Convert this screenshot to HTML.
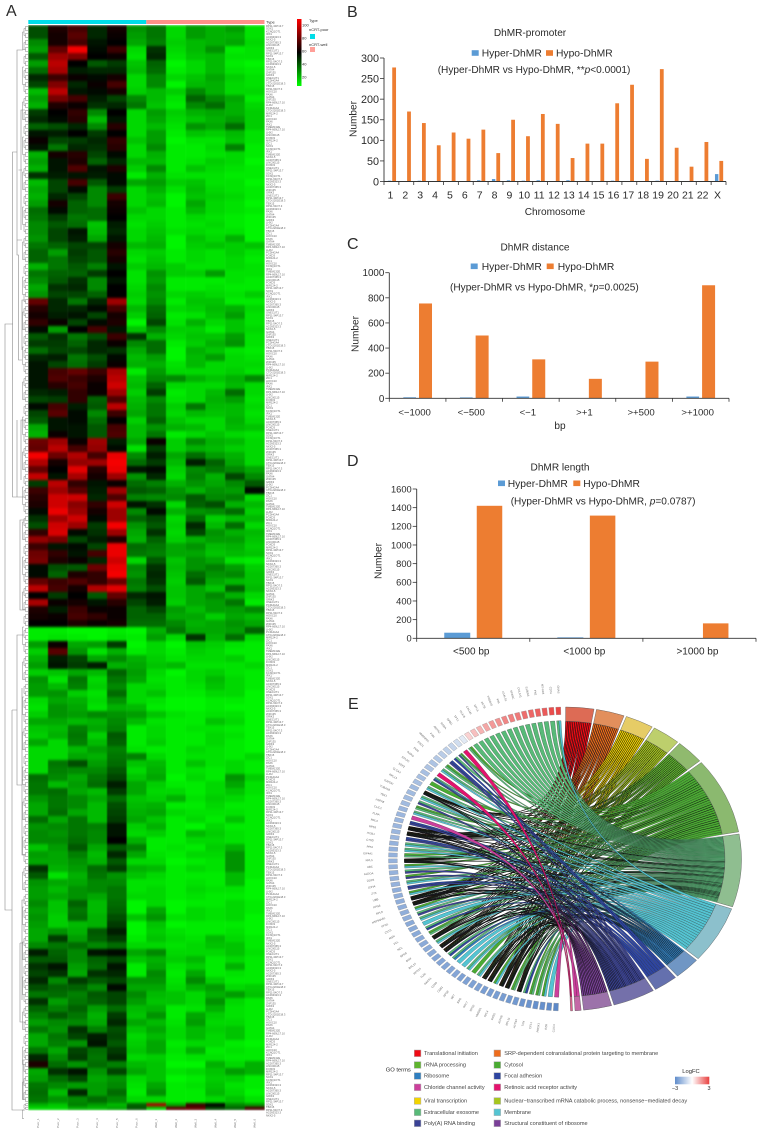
<!DOCTYPE html>
<html lang="en">
<head>
<meta charset="utf-8">
<title>DhMR heatmap, bar charts and GO chord diagram</title>
<style>
html,body{margin:0;padding:0;background:#fff;}
svg{display:block;font-family:"Liberation Sans",Arial,sans-serif;}
text{fill:#2a2a2a;}
</style>
</head>
<body>
<svg id="fig" xmlns="http://www.w3.org/2000/svg" width="761" height="1134" viewBox="0 0 761 1134">
<defs>
<linearGradient id="heatScale" x1="0" y1="1" x2="0" y2="0"><stop offset="0" stop-color="#00ff00"/><stop offset="0.5" stop-color="#000"/><stop offset="1" stop-color="#ff0000"/></linearGradient>
<linearGradient id="fcScale" x1="0" y1="0" x2="1" y2="0"><stop offset="0" stop-color="#5f8ccb"/><stop offset="0.5" stop-color="#fff"/><stop offset="1" stop-color="#e8403f"/></linearGradient>
<filter id="heatSoft" x="0" y="0" width="1" height="1" color-interpolation-filters="sRGB"><feGaussianBlur stdDeviation="0.4 1.2"/></filter>
</defs>
<text x="6" y="16" font-size="16">A</text>
<text x="347" y="17" font-size="16">B</text>
<text x="347" y="249" font-size="16">C</text>
<text x="347" y="466" font-size="16">D</text>
<text x="348" y="709" font-size="16">E</text>

<g id="heatPanel">
<rect x="28.3" y="20" width="118" height="4" fill="#00dde8"/>
<rect x="146.3" y="20" width="118.2" height="4" fill="#ff9088"/>
<text x="266" y="23.5" font-size="4">Type</text>
<path fill="none" stroke="#8a8a8a" stroke-width="0.6" d="M13 324H5V910H12M17 152H12.5V497H17M23 50H17V255H18.5V360H22M22 170H18.5M24 497H17V420M12 710V1110H25M12 710H17M24 635H17V785H22M22 688V855H25M22 780H25M20 943V1022H25M20 943H23M22 240H17M25 110H21V230M25 300H22V350M25 420H21V480M25 520H20V610H25M25 900H22V1000M25 1060H23V1100"/>
<g id="dendroLeaves"></g>
<g id="heatCells" filter="url(#heatSoft)"></g>
<g id="rowLabels"></g>
<g id="colLabels"></g>
<rect x="297" y="19" width="4.5" height="67" fill="url(#heatScale)"/>
<g font-size="4" fill="#555">
<text x="302" y="26.5">100</text>
<text x="302" y="39.5">80</text>
<text x="302" y="52.5">60</text>
<text x="302" y="65.5">40</text>
<text x="302" y="78.5">20</text>
<text x="309" y="22">Type</text>
<text x="309" y="31">nCRT-poor</text>
<text x="309" y="46">nCRT-well</text>
</g>
<rect x="310" y="34" width="5" height="5" fill="#00dde8"/>
<rect x="310" y="47" width="5" height="5" fill="#ff9f98"/>
</g>

<g id="chartB">
<text x="530" y="36" font-size="10.1" text-anchor="middle">DhMR-promoter</text>
<text x="437.7" y="73" font-size="10.1">(Hyper-DhMR vs Hypo-DhMR, **<tspan font-style="italic">p</tspan>&lt;0.0001)</text>
<text x="555" y="215" font-size="10.1" text-anchor="middle">Chromosome</text>
<text transform="translate(356.5,119) rotate(-90)" font-size="10.1" text-anchor="middle">Number</text>
</g>
<g id="chartC">
<text x="535" y="250.5" font-size="10.1" text-anchor="middle">DhMR distance</text>
<text x="450" y="290.5" font-size="10.1">(Hyper-DhMR vs Hypo-DhMR, *<tspan font-style="italic">p</tspan>=0.0025)</text>
<text x="560" y="429" font-size="10.1" text-anchor="middle">bp</text>
<text transform="translate(358.5,334) rotate(-90)" font-size="10.1" text-anchor="middle">Number</text>
</g>
<g id="chartD">
<text x="560" y="470.5" font-size="10.1" text-anchor="middle">DhMR length</text>
<text x="510.7" y="504.3" font-size="10.1">(Hyper-DhMR vs Hypo-DhMR, <tspan font-style="italic">p</tspan>=0.0787)</text>
<text transform="translate(381.5,561) rotate(-90)" font-size="10.1" text-anchor="middle">Number</text>
</g>

<g id="chord" style="filter:blur(.25px)"></g>
<g id="geneLabels"></g>

<g id="goLegend">
<text x="385.7" y="1071.3" font-size="5.8" fill="#444">GO terms</text>
</g>
<g>
<text x="691" y="1073" font-size="5.8" text-anchor="middle" fill="#444">LogFC</text>
<rect x="675" y="1076.7" width="34.3" height="7.6" fill="url(#fcScale)"/>
<text x="675" y="1090" font-size="5.5" text-anchor="middle" fill="#444">−3</text>
<text x="709" y="1090" font-size="5.5" text-anchor="middle" fill="#444">3</text>
</g>
</svg>

<script>
// ---------- Heatmap values (one row per band, read top to bottom; 12 samples) ----------
const heatRows = [
[42,64,72,50,62,28,34,14,26,22,26,12],[42,62,76,50,60,26,34,14,26,22,22,12],[30,62,72,54,58,24,32,16,20,22,24,14],
[26,78,108,56,70,14,48,14,20,28,10,12],[40,90,84,58,60,12,50,12,18,20,12,12],[26,96,58,40,46,18,38,8,14,20,10,8],
[36,92,52,50,50,20,36,10,14,20,12,10],[50,70,60,56,62,14,30,14,18,24,16,12],[44,84,50,60,72,14,30,8,20,22,14,12],
[20,96,54,56,62,16,20,16,30,22,14,14],[26,82,72,52,44,30,20,12,38,30,24,10],[22,64,60,48,50,34,18,10,30,36,22,14],
[46,58,68,30,58,14,26,16,22,24,22,16],[50,56,66,20,54,14,24,14,18,22,26,16],[38,42,50,30,66,14,20,12,28,24,36,16],
[54,52,58,46,58,14,26,10,18,16,20,12],[60,44,46,50,68,18,26,8,12,12,18,12],[54,34,50,48,66,14,30,10,10,14,32,10],
[22,62,66,44,56,14,22,10,10,12,14,10],[26,54,64,38,50,20,20,10,12,16,14,8],[22,54,74,54,64,16,30,10,18,14,12,10],
[48,52,54,52,56,10,22,12,12,12,10,10],[20,44,72,40,56,24,26,16,18,12,12,8],[24,44,56,30,46,14,22,12,20,14,12,10],
[22,50,44,30,70,14,18,8,18,16,14,10],[26,62,38,30,62,14,20,8,24,14,12,8],[36,56,38,36,60,18,14,10,20,14,12,10],
[34,46,34,36,58,14,14,10,14,12,10,8],[30,40,36,18,52,12,16,10,12,14,10,8],[30,44,54,20,50,14,18,12,14,12,12,8],
[28,44,52,24,54,14,20,8,18,14,22,8],[34,38,44,44,62,20,22,8,16,18,16,18],[38,26,46,40,66,14,16,10,14,12,16,12],
[38,34,44,40,62,12,18,10,14,12,14,10],[22,34,40,32,54,16,20,16,12,12,14,12],[34,38,38,46,58,12,28,16,16,26,12,12],
[30,40,48,30,54,12,26,10,10,10,12,10],[24,48,50,30,58,14,30,10,10,12,10,10],[28,44,44,38,58,16,28,14,16,14,12,16],
[78,50,34,50,90,14,30,10,18,18,10,10],[66,50,50,56,72,20,36,14,16,20,22,14],[62,52,54,44,62,16,38,10,12,18,26,12],
[68,60,44,56,64,8,44,12,22,14,18,12],[56,26,58,72,54,18,30,16,16,10,18,14],[40,48,34,42,70,48,22,14,18,18,26,12],
[46,46,38,50,60,30,36,10,16,22,28,12],[36,44,44,50,48,24,36,8,22,18,12,10],[50,52,34,42,56,20,26,8,20,26,14,12],
[54,44,36,46,60,22,22,12,20,14,14,14],[54,72,78,70,92,10,26,14,14,14,16,12],[54,74,70,64,96,18,30,30,22,18,22,30],
[54,66,72,60,100,20,38,14,14,14,20,14],[50,52,68,60,90,16,46,10,14,20,36,14],[44,46,68,38,74,20,30,12,14,22,26,12],
[56,72,52,40,96,22,34,16,34,20,20,14],[44,76,56,30,70,24,34,14,20,18,20,12],[40,54,56,36,58,16,38,18,14,14,22,14],
[24,54,54,40,72,20,28,22,20,14,20,18],[22,60,54,40,74,20,34,10,14,18,14,12],[80,90,60,90,52,24,60,16,30,22,20,14],
[78,96,72,88,56,12,46,16,22,20,16,14],[108,80,94,72,106,30,52,24,36,26,22,14],[94,62,88,90,108,36,46,20,52,38,24,14],
[78,58,104,66,106,54,56,16,30,34,30,24],[98,54,92,62,90,28,50,14,32,22,44,30],[46,96,68,54,60,36,32,22,28,24,30,40],
[70,90,76,52,90,40,38,28,22,28,26,56],[66,100,100,50,74,32,30,30,40,30,32,14],[64,100,86,68,100,54,48,14,38,42,22,20],
[56,106,90,62,90,30,56,22,28,30,36,16],[48,90,100,56,90,38,44,14,36,16,20,20],[42,100,90,46,108,28,40,16,50,20,36,14],
[68,102,56,48,90,24,48,14,44,28,22,20],[88,82,44,52,64,22,38,16,22,26,26,18],[70,54,56,44,106,36,34,24,28,20,22,16],
[80,68,54,72,106,34,32,24,24,18,20,18],[82,64,60,50,100,14,40,18,28,24,12,10],[56,42,40,80,106,30,48,20,28,32,26,16],
[56,38,64,68,108,28,50,18,36,28,30,18],[78,70,74,68,80,34,48,16,40,24,20,18],[96,72,62,94,104,32,42,18,24,18,38,20],
[58,46,58,40,78,50,54,18,24,30,22,14],[92,60,62,54,66,44,52,16,24,26,34,10],[64,52,70,60,60,38,44,26,20,26,26,30],
[62,60,72,68,60,38,38,24,24,16,24,20],[58,58,64,60,62,36,36,30,22,24,28,24],[10,10,8,8,10,8,22,34,24,24,26,38],
[10,12,10,8,12,10,26,14,48,22,36,14],[26,60,24,26,46,8,14,8,18,16,12,10],[16,76,28,12,22,10,14,10,16,14,10,10],
[22,52,44,24,30,22,16,12,14,14,16,10],[26,54,46,52,22,24,18,20,12,12,12,14],[16,18,24,20,38,26,14,8,14,16,12,10],
[28,12,34,14,34,24,12,10,14,20,14,10],[26,20,32,16,30,14,14,10,12,18,14,10],[26,28,16,12,36,14,18,10,10,14,14,8],
[14,24,22,14,28,14,12,8,8,10,10,8],[12,28,24,12,22,20,10,8,8,10,8,8],[16,28,26,30,28,26,18,12,10,12,12,8],
[24,24,20,22,30,20,12,10,10,18,14,8],[18,20,32,24,32,10,14,10,12,12,10,8],[16,22,34,16,40,10,14,10,10,14,12,8],
[24,14,32,20,38,10,16,10,10,14,10,8],[14,14,20,26,32,12,10,10,14,12,10,8],[14,14,24,22,34,32,14,10,12,12,10,14],
[14,34,42,26,36,18,20,10,18,12,14,10],[14,32,30,30,40,14,22,10,12,10,14,10],[36,30,24,34,44,18,24,8,14,10,28,16],
[34,20,26,36,52,24,16,10,10,14,24,12],[34,36,24,20,46,24,14,14,10,14,18,12],[28,34,30,24,36,18,16,22,12,16,14,10],
[24,34,30,20,42,20,22,10,10,14,10,10],[24,36,24,20,44,22,24,14,12,12,12,10],[36,24,34,20,46,24,18,10,14,10,18,10],
[28,30,34,32,54,16,22,10,8,14,10,10],[30,28,34,30,54,14,16,10,20,16,12,10],[30,30,36,30,58,22,10,10,14,14,12,10],
[18,26,40,24,40,32,10,12,10,16,22,10],[26,24,32,20,50,24,12,10,14,14,28,10],[24,24,28,22,40,14,14,8,10,12,28,10],
[48,22,26,36,46,22,20,10,14,12,28,10],[40,12,22,34,28,18,14,10,10,10,20,10],[28,24,24,30,30,12,12,10,12,10,20,8],
[26,20,28,30,34,12,14,10,14,12,12,8],[26,24,28,24,34,14,14,10,12,10,10,8],[30,18,38,20,36,8,14,8,10,10,14,10],
[26,18,34,20,38,8,24,8,14,12,14,10],[28,16,36,22,42,18,28,12,14,12,14,8],[26,16,20,22,46,8,18,8,10,10,10,8],
[24,28,22,40,52,8,16,12,10,10,12,8],[24,46,26,38,46,10,18,14,12,20,14,10],[30,34,36,30,36,14,14,12,14,18,18,10],
[52,38,30,54,56,24,30,14,14,14,18,12],[40,40,30,38,44,18,22,16,20,10,14,10],[48,54,26,36,54,10,24,12,16,10,22,10],
[44,48,24,48,50,10,30,10,24,10,12,10],[50,30,46,40,44,28,28,12,30,16,10,10],[42,38,38,30,56,24,24,14,22,26,14,16],
[34,36,32,40,44,30,20,18,14,22,26,18],[48,26,34,38,44,26,18,18,14,28,14,10],[38,32,38,26,36,20,22,10,12,22,12,10],
[32,40,34,22,46,18,28,10,24,16,12,10],[26,30,30,24,50,24,20,12,26,14,14,10],[34,28,48,32,42,18,24,14,20,16,18,10],
[24,34,44,52,44,14,20,14,20,14,18,10],[24,32,28,54,40,16,24,10,14,14,10,8],[34,24,44,36,46,18,24,12,22,10,12,10],
[50,30,46,34,50,14,16,10,12,12,10,10],[64,36,28,36,32,20,18,8,8,22,14,22],[24,48,54,28,44,24,18,12,14,18,26,22],
[26,36,44,24,28,14,18,8,10,16,16,10],[34,30,26,26,30,12,24,10,12,18,12,10],[36,20,50,26,36,10,28,10,10,20,14,8],
[34,28,30,36,30,14,14,10,10,14,18,12],[22,18,32,26,20,38,92,24,70,58,30,26],[14,14,22,20,24,40,16,76,78,44,38,72]
];
// Row labels in the source are too small to read; these are representative stand-ins.
const rowLabelNames = ["RP11-34P13.7","PCDHGA4","LINC00115","ZNF135","TMEM132E","AC093323.3","HOXC10","SOX1","CTD-2201E18.3","FOXD3","GRIK3","RP4-669L17.10","NKX2-5","PAX6","KCNQ1OT1","TBX15","MIR124-2","ONECUT1","LHX2","AC007365.3","GATA4","IRX1","RP11-54O7.3","ZIC1"];
const sampleLabels = ["Poor_1","Poor_2","Poor_3","Poor_4","Poor_5","Poor_6","Well_1","Well_2","Well_3","Well_4","Well_5","Well_6"];

// ---------- Bar chart values ----------
const promoterCategories = ["1","2","3","4","5","6","7","8","9","10","11","12","13","14","15","16","17","18","19","20","21","22","X"];
const promoterHyper = [2,0,2,1,1,1,3,6,3,2,3,1,3,1,1,2,1,0,2,0,0,0,18];
const promoterHypo = [277,170,142,88,119,104,126,69,150,110,164,140,57,92,92,190,235,55,273,82,36,96,50];
const promoterTicks = [0,50,100,150,200,250,300];

const distanceCategories = ["<−1000","<−500","<−1",">+1",">+500",">+1000"];
const distanceHyper = [8,7,14,2,2,14];
const distanceHypo = [755,500,310,155,292,900];
const distanceTicks = [0,200,400,600,800,1000];

const lengthCategories = ["<500 bp","<1000 bp",">1000 bp"];
const lengthHyper = [60,10,1];
const lengthHypo = [1420,1315,160];
const lengthTicks = [0,200,400,600,800,1000,1200,1400,1600];

// ---------- Chord values ----------
const termNames = ["Translational initiation","SRP-dependent cotranslational protein targeting to membrane","Viral transcription","Nuclear−transcribed mRNA catabolic process, nonsense−mediated decay","rRNA processing","Cytosol","Extracellular exosome","Membrane","Ribosome","Focal adhesion","Poly(A) RNA binding","Structural constituent of ribosome","Chloride channel activity","Retinoic acid receptor activity"];
const termGeneCounts = [14,14,14,14,14,44,42,33,13,12,21,14,3,1];
const termColors = ["#f00a14","#ee6c1c","#f2d400","#a6c61e","#5fb52e","#4aab32","#58ba78","#54c4d2","#2f7fc0","#2e45a0","#3a4296","#7a3f98","#cc3f9c","#e4126e"];
const termRingColors = ["#dd6b55","#e28f5c","#e6cc66","#bdcf6c","#90ba6e","#8bb96f","#8fbe90","#8cc0cc","#7096c4","#6470ae","#7470aa","#9c72aa","#c468a6","#e0608e"];
const ribosomalLinks = [0,1,2,3,4,5,6,8,10,11];
const R = ribosomalLinks;
const geneTerms = [[7,6],[6],[6],[6],[6],[6],[6],[6],[6],[6],[6],[6],[6],[6],[6],[5,6],[13],[5,6,10],[6,9],[9,10],[5,6],[6,7],[13],[6,8,10],[5],[6,7],R,[6,7],[6,10],[5,6],[6,7],[12],[9,10],R,R,[9,10],[6,7],[6,7],[5,6],R,[5,7],[6,10],[5,10],[6,7],[9,10],[5,7],R,R,[5,7],[6,10],[6,7],[7],[6,9],[5,6],R,[6,7],R,R,[6,9],[6,8],[7],[7],[6,7],[5],[6,7],R,R,[5,7],R,R,[5,6],R,[6,9],[5,6],[5,6],[5,7],[7],[12]];
const geneLogFC = [2.9,2.8,2.6,2.5,2.4,2.3,2.1,2,1.9,1.7,1.6,1.4,1.2,1,0.7,-0.5,-0.8,-1,-1.1,-1.2,-1.3,-1.4,-1.4,-1.5,-1.5,-1.5,-1.6,-1.6,-1.6,-1.6,-1.7,-1.7,-1.7,-1.7,-1.7,-1.7,-1.8,-1.8,-1.8,-1.8,-1.8,-1.8,-1.8,-1.8,-1.9,-1.9,-1.9,-1.9,-1.9,-1.9,-2,-2,-2,-2,-2,-2,-2,-2.1,-2.1,-2.1,-2.1,-2.1,-2.2,-2.2,-2.2,-2.2,-2.3,-2.3,-2.3,-2.3,-2.4,-2.4,-2.5,-2.5,-2.6,-2.6,-2.7,-2.8];
// Gene labels in the source are too small to read; these are representative stand-ins.
const geneNames = ["GNAS","CD74","MT-ND4","FN1","S100A6","COL1A1","SPARC","LGALS1","VIM","TMSB10","ACTB","MYL6","CALM1","HLA-B","TPT1","NPM1","RARA","ANXA2","PXN","HNRNPA1","ENO1","PKM","RARG","RPLP0","EEF2","CLCA4","RPL13","GAPDH","TUBA1B","YBX1","HSPA8","CLIC1","FLNA","RPL3","RPS3","ITGB1","CTSD","PPIA","EIF4A1","RPL5","UBC","ALDOA","DDX5","LDHA","ZYX","UBB","RPS6","RPL8","HSP90AB1","PFN1","CST3","MSN","VCL","NCL","RPS8","B2M","RPL10","RPS14","TLN1","RACK1","CD59","CD81","APOE","SET","BSG","RPL7","RPS2","HMGB1","RPL4","RPS5","ATP5B","RPL11","ACTN4","TXN","CFL1","PRDX1","EZR","CLIC4"];
const legendRows = [
 {term:0,col:0,row:0},{term:1,col:1,row:0},{term:4,col:0,row:1},{term:5,col:1,row:1},
 {term:8,col:0,row:2},{term:9,col:1,row:2},{term:12,col:0,row:3},{term:13,col:1,row:3},
 {term:2,col:0,row:4},{term:3,col:1,row:4},{term:6,col:0,row:5},{term:7,col:1,row:5},
 {term:10,col:0,row:6},{term:11,col:1,row:6}];

const NS = "http://www.w3.org/2000/svg";
function mk(tag, attrs, parent){
  const el = document.createElementNS(NS, tag);
  for(const k in attrs) el.setAttribute(k, attrs[k]);
  parent.appendChild(el);
  return el;
}

// ---------- Heatmap ----------
const heatX0 = 28.3, heatColW = 19.68, heatY0 = 25, heatRowH = 7;
const heatX = c => heatX0 + c*heatColW;
const heatY = r => heatY0 + (r <= heatRows.length-2 ? r*heatRowH : (r-1)*heatRowH + heatRowH/2);
const heatH = r => r >= heatRows.length-2 ? heatRowH/2 : heatRowH;
function heatColor(v){
  const t = Math.max(-1, Math.min(1, (v-58)/52));
  const k = Math.round(Math.abs(t)*255);
  return t < 0 ? "rgb(0,"+k+",0)" : "rgb("+k+",0,0)";
}
const heatG = document.getElementById("heatCells");
heatRows.forEach((row, r) => row.forEach((v, c) => {
  const cell = mk("rect", {x:heatX(c), y:heatY(r), width:heatColW+0.2, height:heatH(r)+0.2, fill:heatColor(v)}, heatG);
  
  
}));

let leafD = "";
heatRows.forEach((row, r) => {
  const y = heatY(r), h = heatH(r);
  leafD += "M28 "+(y+h*.2)+"H25.5V"+(y+h*.8)+"H28";
  if(r%2===0) leafD += "M25.5 "+(y+h/2)+"H24V"+(y+h*1.5)+"H25.5";
  if(r%5===0) leafD += "M24 "+(y+h)+"H22.5V"+(y+h*3.5)+"H24";
});
const leaves = mk("path", {d:leafD, fill:"none", stroke:"#777", "stroke-width":0.45}, document.getElementById("dendroLeaves"));



const rowLabelG = document.getElementById("rowLabels");
for(let i=0;i<400;i++){
  const t = mk("text", {x:266, y:27+i*2.73, "font-size":2.7}, rowLabelG);
  t.style.fill = "#666";
  t.textContent = rowLabelNames[(i*7+(i>>2))%rowLabelNames.length];
  
  
}
const colLabelG = document.getElementById("colLabels");
sampleLabels.forEach((s,c)=>{
  const t = mk("text", {transform:"translate("+(heatX(c)+heatColW/2+1)+",1128) rotate(-90)", "font-size":3}, colLabelG);
  t.style.fill = "#777";
  t.textContent = s;
  
  
});

// ---------- Bar charts ----------
function drawBars(o){
  const g = document.getElementById(o.id);
  const x0 = o.x0, x1 = o.x1, yBase = o.yBase, yTop = o.yTop;
  const maxTick = o.ticks[o.ticks.length-1];
  const yScale = v => yBase - v*(yBase-yTop)/maxTick;
  const bandW = (x1-x0)/o.categories.length;
  const xBand = i => x0 + i*bandW;
  o.categories.forEach((cat,i)=>{
    const c = xBand(i) + bandW/2;
    const hyper = mk("rect", {x:c-o.hyperLeft, y:yScale(o.hyper[i]), width:o.hyperW, height:yBase-yScale(o.hyper[i]), fill:"#5b9bd5"}, g);
    
    
    const hypo = mk("rect", {x:c+o.hypoLeft, y:yScale(o.hypo[i]), width:o.hypoW, height:yBase-yScale(o.hypo[i]), fill:"#ed7d31"}, g);
    
    
    const lab = mk("text", {x:c+o.labelShift, y:yBase+o.labelDy, "font-size":o.xFont, "text-anchor":"middle"}, g);
    lab.textContent = cat;
    
    
  });
  for(let i=0;i<=o.categories.length;i++){
    const tick = mk("line", {x1:xBand(i), x2:xBand(i), y1:yBase, y2:yBase+3.5, stroke:"#333", "stroke-width":0.8}, g);
    
    
  }
  const xAxis = mk("line", {x1:x0, x2:x1, y1:yBase, y2:yBase, stroke:"#333", "stroke-width":0.9}, g);
  
  
  const yAxis = mk("line", {x1:x0, x2:x0, y1:yTop, y2:yBase, stroke:"#333", "stroke-width":0.9}, g);
  
  
  o.ticks.forEach(v=>{
    const tick = mk("line", {x1:x0-4, x2:x0, y1:yScale(v), y2:yScale(v), stroke:"#333", "stroke-width":0.8}, g);
    
    
    const lab = mk("text", {x:x0-5, y:yScale(v)+o.yFont*.36, "font-size":o.yFont, "text-anchor":"end"}, g);
    lab.textContent = v;
    
    
  });
  // legend
  const s1 = mk("rect", {x:o.leg[0], y:o.legY-2.8, width:7, height:5.6, fill:"#5b9bd5"}, g);
  
  
  const t1 = mk("text", {x:o.leg[1], y:o.legY+3.6, "font-size":10.3}, g);
  t1.textContent = "Hyper-DhMR";
  
  
  const s2 = mk("rect", {x:o.leg[2], y:o.legY-2.8, width:7, height:5.6, fill:"#ed7d31"}, g);
  
  
  const t2 = mk("text", {x:o.leg[3], y:o.legY+3.6, "font-size":10.3}, g);
  t2.textContent = "Hypo-DhMR";
  
  
}
drawBars({id:"chartB",categories:promoterCategories,hyper:promoterHyper,hypo:promoterHypo,ticks:promoterTicks,x0:384,x1:726,yBase:181.5,yTop:58,hyperLeft:3.6,hyperW:3.4,hypoLeft:0.8,hypoW:3.8,labelShift:-1,labelDy:17.2,xFont:10.5,yFont:10.8,leg:[471.7,481.7,546,556],legY:53});
drawBars({id:"chartC",categories:distanceCategories,hyper:distanceHyper,hypo:distanceHypo,ticks:distanceTicks,x0:389.3,x1:729,yBase:398.3,yTop:272.7,hyperLeft:14.3,hyperW:12.7,hypoLeft:1.4,hypoW:13,labelShift:-3,labelDy:17,xFont:9.6,yFont:9.8,leg:[470.7,481.7,546.7,557.7],legY:266.3});
drawBars({id:"chartD",categories:lengthCategories,hyper:lengthHyper,hypo:lengthHypo,ticks:lengthTicks,x0:416.7,x1:756,yBase:638.3,yTop:489,hyperLeft:29,hyperW:26,hypoLeft:3.5,hypoW:25.5,labelShift:-2,labelDy:16.2,xFont:10,yFont:9.3,leg:[498,507.7,573.3,583.3],legY:483.3});

// ---------- Chord diagram ----------
const chordG = document.getElementById("chord");
const cx = 565, cy = 859, rx = 176.5, ry = 152;
const polar = (deg, r) => {
  const a = deg*Math.PI/180;
  return [cx + rx*r*Math.sin(a), cy - ry*r*Math.cos(a)];
};
const termGap = 0.8, termStart0 = 0.2;
const degPerGene = (178 - termGap*(termGeneCounts.length-1)) / termGeneCounts.reduce((a,b)=>a+b,0);
const termRanges = [];
let cursor = termStart0;
termGeneCounts.forEach(n => { termRanges.push([cursor, cursor+n*degPerGene]); cursor += n*degPerGene + termGap; });
const geneAngle = i => 357.8 - i*2.27;
function arcBand(a0, a1, r0, r1){
  const p0 = polar(a0,r1), p1 = polar(a1,r1), p2 = polar(a1,r0), p3 = polar(a0,r0);
  return "M"+p0+"A"+(rx*r1)+" "+(ry*r1)+" 0 0 1 "+p1+"L"+p2+"A"+(rx*r0)+" "+(ry*r0)+" 0 0 0 "+p3+"Z";
}
// ribbons: links of multi-term genes carry heavier outlines, so those stubs read as black
const linksByTerm = termNames.map(()=>[]);
geneTerms.forEach((terms,g)=>terms.forEach((t,k)=>linksByTerm[t].push({g:g,k:k,n:terms.length})));
linksByTerm.forEach((links,t)=>{
  const [t0,t1] = termRanges[t];
  const w = (t1-t0)/links.length;
  links.forEach((l,idx)=>{
    const span = 1.56/l.n;
    const aHi = geneAngle(l.g) + 0.78 - l.k*span, aLo = aHi - span;
    const a = polar(aHi,.91), b = polar(aLo,.91);
    const c = polar(t0+idx*w,.906), d = polar(t0+(idx+1)*w,.906);
    const ctrl = cx+","+cy;
    const ribbon = mk("path", {d:"M"+a+"Q"+ctrl+" "+c+"L"+d+"Q"+ctrl+" "+b+"Z", fill:termColors[t], stroke:"#111", "stroke-width":l.n>=6?0.5:0.22}, chordG);
    
    
  });
});
// term arcs
termRanges.forEach((rg,t)=>{
  const arc = mk("path", {d:arcBand(rg[0],rg[1],.906,1), fill:termRingColors[t], stroke:"#555", "stroke-width":0.4}, chordG);
  
  
});
// gene boxes
function fcColor(v){
  const t = Math.min(1, Math.abs(v)/3);
  const end = v >= 0 ? [232,64,63] : [79,127,196];
  const c = end.map(e => Math.round(255 + (e-255)*t));
  return "rgb("+c+")";
}
const labelG = document.getElementById("geneLabels");
geneTerms.forEach((terms,g)=>{
  const a = geneAngle(g);
  const box = mk("path", {d:arcBand(a-0.8,a+0.8,.95,1), fill:fcColor(geneLogFC[g]), stroke:"#888", "stroke-width":0.3}, chordG);
  
  
  const p = polar(a,1.09);
  const lab = mk("text", {transform:"translate("+p+") rotate("+(a+90)+")", "font-size":2.8, "text-anchor":"end"}, labelG);
  lab.style.fill = "#666";
  lab.textContent = geneNames[g];
  
  
});

// ---------- GO legend ----------
const legendG = document.getElementById("goLegend");
const legendSwatchX = [414.3, 494];
const legendTextX = [424, 504.3];
const legendY = [1053.3,1065,1076,1087.3,1101,1112.3,1123.3];
legendRows.forEach(e=>{
  const s = mk("rect", {x:legendSwatchX[e.col], y:legendY[e.row]-3.3, width:6.6, height:6.6, fill:termColors[e.term], stroke:"#aaa", "stroke-width":0.5}, legendG);
  
  
  const t = mk("text", {x:legendTextX[e.col], y:legendY[e.row]+1.7, "font-size":5.6}, legendG);
  t.style.fill = "#444";
  t.textContent = termNames[e.term];
  
  
});
</script>
</body>
</html>
